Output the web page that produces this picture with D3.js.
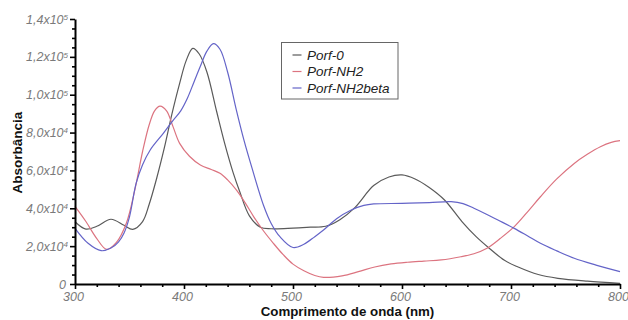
<!DOCTYPE html>
<html>
<head>
<meta charset="utf-8">
<script src="https://cdn.jsdelivr.net/npm/d3@7"></script>
<style>
  html, body { margin: 0; padding: 0; background: #fff; }
  svg { display: block; font-family: "Liberation Sans", Arial, sans-serif; }
</style>
</head>
<body>
<svg id="chart" width="628" height="320"></svg>
<script>
// UV-Vis absorption spectra of the three porphyrins
const porf0Nm  = [300, 310, 320, 333, 345, 353, 362, 368, 375, 382, 389, 396, 402, 408, 414, 421, 430, 437, 445, 451, 460, 470, 480, 500, 516, 530, 543, 557, 574, 588, 600, 612, 625, 639, 655, 668, 680, 694, 706, 725, 743, 770, 800];
const porf0Abs = [32900, 29000, 30500, 34200, 31000, 28900, 33000, 42000, 56000, 72000, 90000, 106000, 118000, 124500, 121500, 112000, 91000, 75000, 59000, 49000, 36000, 30000, 29200, 29500, 30000, 30500, 34000, 40500, 52000, 56500, 57600, 55500, 51000, 44400, 33000, 25000, 18900, 12500, 9100, 5000, 3000, 1500, 400];

const nh2Nm  = [300, 310, 320, 329, 338, 347, 355, 362, 368, 373, 378, 384, 390, 396, 405, 415, 425, 433, 440, 448, 456, 464, 473, 482, 491, 500, 510, 520, 528, 545, 560, 575, 590, 605, 620, 636, 654, 666, 678, 690, 703, 715, 727, 742, 758, 770, 782, 792, 800];
const nh2Abs = [41000, 33000, 24000, 18300, 22000, 32000, 50000, 70000, 84000, 91500, 94000, 91500, 83000, 74300, 67500, 62900, 60500, 58500, 55000, 49700, 43000, 35500, 28000, 21500, 15500, 10500, 7000, 4500, 3500, 4300, 6500, 9000, 10600, 11500, 12100, 12700, 14400, 16000, 18900, 24000, 30300, 38000, 46100, 55500, 63700, 68500, 72500, 74800, 75700];

const betaNm  = [300, 312, 324, 333, 340, 345, 350, 356, 362, 369, 381, 390, 397, 403, 409, 415, 421, 427, 433, 440, 448, 455, 462, 473, 480, 488, 500, 510, 520, 528, 540, 553, 565, 574, 600, 625, 645, 656, 666, 677, 688, 703, 715, 727, 742, 758, 778, 800];
const betaAbs = [29400, 21500, 17600, 19000, 22300, 27000, 35500, 53000, 63000, 70800, 79600, 86500, 91500, 98000, 106500, 115000, 123000, 127000, 124000, 112000, 92000, 76000, 62000, 41500, 32000, 25000, 19300, 21000, 25000, 28500, 34500, 39000, 41500, 42300, 42600, 43000, 43500, 42500, 40000, 37000, 33800, 29400, 25500, 21500, 17500, 13600, 10000, 6500];

const seriesNames  = ["Porf-0", "Porf-NH2", "Porf-NH2beta"];
const seriesColors = ["#5a5a5a", "#dc7480", "#6464c8"];

// Axis ticks and their labels (mantissa, exponent)
const xTicks = [300, 400, 500, 600, 700, 800];
const xMinorStep = 20;
const yTicks = [0, 20000, 40000, 60000, 80000, 100000, 120000, 140000];
const yTickLabels = [["0", ""], ["2,0x10", "4"], ["4,0x10", "4"], ["6,0x10", "4"], ["8,0x10", "4"], ["1,0x10", "5"], ["1,2x10", "5"], ["1,4x10", "5"]];
const yMinorStep = 5000;

const margin = { left: 75, right: 8, top: 19, bottom: 36 };
const W = 628, H = 320;

const svg = d3.select("#chart");

const x = d3.scaleLinear().domain([300, 800]).range([margin.left, W - margin.right]);
const y = d3.scaleLinear().domain([0, 140000]).range([H - margin.bottom, margin.top]);

const series = [
  { name: seriesNames[0], color: seriesColors[0], nm: porf0Nm, abs: porf0Abs },
  { name: seriesNames[1], color: seriesColors[1], nm: nh2Nm,  abs: nh2Abs },
  { name: seriesNames[2], color: seriesColors[2], nm: betaNm, abs: betaAbs }
];

const line = d3.line()
  .x(d => x(d[0]))
  .y(d => y(d[1]))
  .curve(d3.curveCatmullRom.alpha(0.5));

svg.append("g").selectAll("path")
  .data(series)
  .join("path")
  .attr("d", s => line(s.nm.map((v, i) => [v, s.abs[i]])))
  .attr("fill", "none")
  .attr("stroke", s => s.color)
  .attr("stroke-width", 1.2);

// Minor ticks
const xMinor = d3.range(300, 800 + 1, xMinorStep).filter(v => !xTicks.includes(v));
const yMinor = d3.range(0, 140000 + 1, yMinorStep).filter(v => !yTicks.includes(v));

const xAxisG = svg.append("g").attr("transform", `translate(0,${y(0)})`);
xAxisG.append("g")
  .call(d3.axisBottom(x).tickValues(xMinor).tickSize(3).tickFormat(""))
  .call(g => g.select(".domain").remove())
  .call(g => g.selectAll("line").attr("stroke", "#000").attr("stroke-width", 1.6));
xAxisG.append("g")
  .call(d3.axisBottom(x).tickValues(xTicks).tickSize(5).tickSizeOuter(0).tickPadding(3))
  .call(g => g.select(".domain").attr("stroke", "#000").attr("stroke-width", 2))
  .call(g => g.selectAll("line").attr("stroke", "#000").attr("stroke-width", 1.6))
  .call(g => g.selectAll("text")
    .attr("x", -2)
    .attr("fill", "#7a7a7a")
    .attr("font-style", "italic")
    .attr("font-size", 12.5)
    .attr("font-family", "Liberation Sans, Arial, sans-serif"));

const yAxisG = svg.append("g").attr("transform", `translate(${x(300)},0)`);
yAxisG.append("g")
  .call(d3.axisLeft(y).tickValues(yMinor).tickSize(3).tickFormat(""))
  .call(g => g.select(".domain").remove())
  .call(g => g.selectAll("line").attr("stroke", "#000").attr("stroke-width", 1.6));
const yMajor = yAxisG.append("g")
  .call(d3.axisLeft(y).tickValues(yTicks).tickSize(5).tickSizeOuter(0).tickFormat(""))
  .call(g => g.select(".domain").attr("stroke", "#000").attr("stroke-width", 2))
  .call(g => g.selectAll("line").attr("stroke", "#000").attr("stroke-width", 1.6));

// y tick labels with superscript exponents
yMajor.selectAll(".tick").each(function (d, i) {
  const lab = yTickLabels[i];
  const t = d3.select(this).append("text")
    .attr("x", lab[1] ? -7 : -9)
    .attr("dy", "0.32em")
    .attr("text-anchor", "end")
    .attr("fill", "#7a7a7a")
    .attr("font-style", "italic")
    .attr("font-size", 12.5)
    .attr("font-family", "Liberation Sans, Arial, sans-serif");
  t.append("tspan").text(lab[0]);
  if (lab[1]) {
    t.append("tspan").attr("dy", "-0.45em").attr("font-size", 8).text(lab[1]);
  }
});

// Axis titles
svg.append("text")
  .attr("x", (x(300) + x(800)) / 2)
  .attr("y", 316)
  .attr("text-anchor", "middle")
  .attr("font-weight", "bold")
  .attr("font-size", 13.3)
  .attr("fill", "#111")
  .text("Comprimento de onda (nm)");

svg.append("text")
  .attr("transform", `translate(22,${(y(0) + y(140000)) / 2 + 1}) rotate(-90)`)
  .attr("text-anchor", "middle")
  .attr("font-weight", "bold")
  .attr("font-size", 13.5)
  .attr("fill", "#111")
  .text("Absorbância");

// Legend
const legend = svg.append("g").attr("transform", "translate(281.5,42.5)");
legend.append("rect")
  .attr("width", 116.5).attr("height", 56.5)
  .attr("fill", "#fff")
  .attr("stroke", "#666").attr("stroke-width", 1);
const items = legend.selectAll("g.item")
  .data(series)
  .join("g")
  .attr("class", "item")
  .attr("transform", (d, i) => `translate(0,${12.5 + i * 16.5})`);
items.append("line")
  .attr("x1", 11).attr("x2", 20)
  .attr("stroke", d => d.color).attr("stroke-width", 1.2);
items.append("text")
  .attr("x", 25.5).attr("dy", "0.36em")
  .attr("font-style", "italic")
  .attr("font-size", 13.5)
  .attr("fill", "#222")
  .text(d => d.name);
</script>
</body>
</html>
